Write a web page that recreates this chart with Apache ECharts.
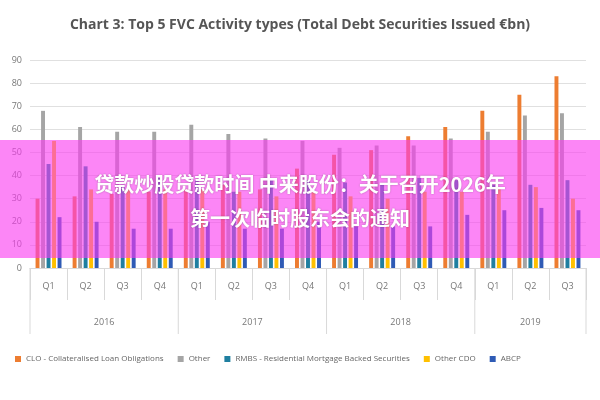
<!DOCTYPE html>
<html>
<head>
<meta charset="utf-8">
<script src="https://cdn.jsdelivr.net/npm/echarts@6/dist/echarts.min.js"></script>
<style>html,body{margin:0;padding:0;background:#fff}#main{width:600px;height:400px}</style>
</head>
<body>
<div id="main"></div>
<script>
var quarters = ['Q1','Q2','Q3','Q4','Q1','Q2','Q3','Q4','Q1','Q2','Q3','Q4','Q1','Q2','Q3'];
var years = ['2016','2017','2018','2019'];
var yearSpan = [4, 4, 4, 3];
var clo      = [30, 31, 32, 33, 34, 36, 34, 43, 49, 51, 57, 61, 68, 75, 83];
var other    = [68, 61, 59, 59, 62, 58, 56, 55, 52, 53, 53, 56, 59, 66, 67];
var rmbs     = [45, 44, 36, 39, 38, 33, 38, 38, 37, 36, 39, 38, 36, 36, 38];
var otherCdo = [55, 34, 34, 34, 34, 33, 31, 33, 31, 30, 33, 33, 35, 35, 30];
var abcp     = [22, 20, 17, 17, 20, 17, 17, 20, 18, 18, 18, 23, 25, 26, 25];

var chart = echarts.init(document.getElementById('main'));
var font = 'Open Sans';
function bar(name, data, color) {
    return { name: name, type: 'bar', data: data, itemStyle: { color: color }, barGap: '40%', barCategoryGap: '30%' };
}
chart.setOption({
    animation: false,
    textStyle: { fontFamily: font },
    title: {
        text: 'Chart 3: Top 5 FVC Activity types (Total Debt Securities Issued €bn)',
        left: 'center', top: 13,
        textStyle: { fontSize: 14, fontWeight: 'bold', color: '#555' }
    },
    legend: {
        bottom: 32, left: 10, itemWidth: 6, itemHeight: 6, icon: 'rect', itemGap: 14,
        textStyle: { fontSize: 8, color: '#666' }
    },
    grid: { left: 30, right: 14, top: 60, bottom: 132 },
    xAxis: [{
        type: 'category', data: quarters,
        axisLine: { lineStyle: { color: '#d9d9d9' } },
        axisTick: { show: true, interval: 0, length: 32, lineStyle: { color: '#d9d9d9' } },
        axisLabel: { color: '#777', fontSize: 9, margin: 14 }
    }],
    yAxis: {
        type: 'value', min: 0, max: 90, interval: 10,
        axisLabel: { color: '#777', fontSize: 9 },
        splitLine: { lineStyle: { color: '#e0e0e0' } }
    },
    series: [
        bar('CLO - Collateralised Loan Obligations', clo, '#ed7d31'),
        bar('Other', other, '#a5a5a5'),
        bar('RMBS - Residential Mortgage Backed Securities', rmbs, '#1f7fa0'),
        bar('Other CDO', otherCdo, '#ffc000'),
        bar('ABCP', abcp, '#2f5bb5')
    ]
});

// year row under quarter labels
var g = [];
var start = 0;
var yBase = chart.convertToPixel({ yAxisIndex: 0 }, 0);
var step = chart.convertToPixel({ xAxisIndex: 0 }, 1) - chart.convertToPixel({ xAxisIndex: 0 }, 0);
for (var i = 0; i < years.length; i++) {
    var x0 = chart.convertToPixel({ xAxisIndex: 0 }, start);
    var x1 = chart.convertToPixel({ xAxisIndex: 0 }, start + yearSpan[i] - 1);
    var left = x0 - step / 2, right = x1 + step / 2;
    g.push({ type: 'line', shape: { x1: left, y1: yBase, x2: left, y2: yBase + 66 }, style: { stroke: '#d9d9d9' } });
    if (i === years.length - 1) {
        g.push({ type: 'line', shape: { x1: right, y1: yBase, x2: right, y2: yBase + 66 }, style: { stroke: '#d9d9d9' } });
    }
    g.push({ type: 'text', x: (left + right) / 2, y: yBase + 54, style: { text: years[i], fill: '#777', fontSize: 9, fontFamily: font, align: 'center', verticalAlign: 'middle' } });
    start += yearSpan[i];
}
// promotional overlay band
g.push({ type: 'rect', shape: { x: 0, y: 140, width: 600, height: 118 }, style: { fill: 'rgba(250,60,240,0.62)' }, z: 100 });
g.push({ type: 'text', x: 300, y: 184, z: 101, style: { text: '贷款炒股贷款时间 中来股份：关于召开2026年', fill: '#fff', fontSize: 20, fontWeight: 'bold', fontFamily: 'Noto Sans CJK SC', align: 'center', verticalAlign: 'middle', textShadowColor: 'rgba(0,0,0,0.3)', textShadowBlur: 2 } });
g.push({ type: 'text', x: 300, y: 218, z: 101, style: { text: '第一次临时股东会的通知', fill: '#fff', fontSize: 20, fontWeight: 'bold', fontFamily: 'Noto Sans CJK SC', align: 'center', verticalAlign: 'middle', textShadowColor: 'rgba(0,0,0,0.3)', textShadowBlur: 2 } });
chart.setOption({ graphic: g });
</script>
</body>
</html>
